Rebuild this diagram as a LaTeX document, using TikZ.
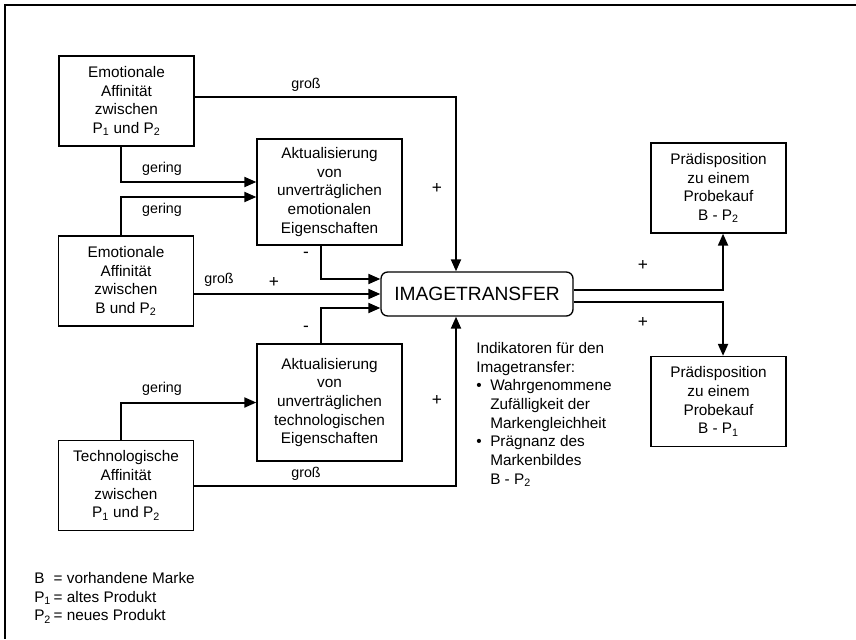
\documentclass[tikz,border=0pt]{standalone}
\usepackage{fontspec}
\setmainfont{Liberation Sans}
\usetikzlibrary{arrows.meta}

\begin{document}
\begin{tikzpicture}[x=0.75pt, y=-0.75pt,
	box/.style = {draw, line width=1pt, align=center, inner sep=0pt, font=\fontsize{11.5}{14}\selectfont},
	lbl/.style = {inner sep=0pt, font=\fontsize{10.7}{13}\selectfont},
	sgn/.style = {inner sep=0pt, font=\fontsize{13}{13}\selectfont},
	conn/.style = {line width=1.5pt, -{Triangle[length=9pt, width=7.5pt]}}]
	\useasboundingbox (0,0) rectangle (856,639);
	\draw[line width=1pt] (856,5) -- (5,5) -- (5,639);
	% Affinitaeten
	\node[box, minimum width=101.25pt, minimum height=67.5pt] (emoP) at (126.5,101) {Emotionale\\Affinität\\zwischen\\P\textsubscript{1} und P\textsubscript{2}};
	\node[box, minimum width=101.25pt, minimum height=67.5pt] (emoB) at (126,281) {Emotionale\\Affinität\\zwischen\\B und P\textsubscript{2}};
	\node[box, minimum width=101.25pt, minimum height=67.5pt] (tech) at (126,485.5) {Technologische\\Affinität\\zwischen\\P\textsubscript{1} und P\textsubscript{2}};
	% Aktualisierung
	\node[box, minimum width=108.75pt, minimum height=79.5pt] (akE) at (329.5,192) {Aktualisierung\\von\\unverträglichen\\emotionalen\\Eigenschaften};
	\node[box, minimum width=108.75pt, minimum height=87.75pt] (akT) at (329.5,402.5) {Aktualisierung\\von\\unverträglichen\\technologischen\\Eigenschaften};
	\node[draw, line width=1pt, rounded corners=5pt, minimum width=144pt, minimum height=33pt, font=\fontsize{14.4}{16}\selectfont] (img) at (477,294) {IMAGETRANSFER};
	% Praedisposition
	\node[box, minimum width=101.25pt, minimum height=67.5pt] (pr2) at (718.5,188) {Prädisposition\\zu einem\\Probekauf\\B - P\textsubscript{2}};
	\node[box, minimum width=101.25pt, minimum height=67.5pt] (pr1) at (718.5,401.5) {Prädisposition\\zu einem\\Probekauf\\B - P\textsubscript{1}};
	% Verbindungen
	\draw[conn] ([yshift=3pt]emoP.east) -| ([xshift=-15.75pt]img.north);
	\draw[conn] ([xshift=-4pt]emoP.south) |- ([yshift=7.5pt]akE.west);
	\draw[conn] ([xshift=-4pt]emoB.north) |- ([yshift=-3.75pt]akE.west);
	\draw[conn] ([xshift=-6.4pt]akE.south) |- ([yshift=11.25pt]img.west);
	\draw[conn] (emoB.east |- img.west) -- (img.west);
	\draw[conn] ([xshift=-6.4pt]akT.north) |- ([yshift=-10.5pt]img.west);
	\draw[conn] ([xshift=-4pt]tech.north) |- (akT.west);
	\draw[conn] (tech.east) -| ([xshift=-15.75pt]img.south);
	\draw[conn] ([yshift=3pt]img.east) -| ([xshift=3.4pt]pr2.south);
	\draw[conn] ([yshift=-6pt]img.east) -| ([xshift=3.4pt]pr1.north);
	% Beschriftungen
	\node[lbl] (g1) at (306,85) {groß};
	\node[sgn] (p1) at (437,188) {+};
	\node[lbl] (r1) at (162,169) {gering};
	\node[lbl] (r2) at (162,210) {gering};
	\node[sgn] (m1) at (306,255) {-};
	\node[lbl] (g2) at (219,280) {groß};
	\node[sgn] (p2) at (274,282) {+};
	\node[sgn] (m2) at (306,329) {-};
	\node[lbl] (r3) at (162,389) {gering};
	\node[sgn] (p3) at (437,400) {+};
	\node[lbl] (g3) at (306,474) {groß};
	\node[sgn] (p4) at (643,265) {+};
	\node[sgn] (p5) at (643,322) {+};
	% Indikatoren
	\node[anchor=north west, inner sep=0pt, font=\fontsize{11.5}{14}\selectfont] (ind) at (476,340) {%
		\begin{tabular}{@{}l@{}l@{}}
		\multicolumn{2}{@{}l@{}}{Indikatoren für den}\\
		\multicolumn{2}{@{}l@{}}{Imagetransfer:}\\
		\makebox[10.5pt][l]{\textbullet} & Wahrgenommene\\
		& Zufälligkeit der\\
		& Markengleichheit\\
		\textbullet & Prägnanz des\\
		& Markenbildes\\
		& B - P\textsubscript{2}
		\end{tabular}};
	% Legende
	\node[anchor=north west, inner sep=0pt, font=\fontsize{11.5}{14}\selectfont] (leg) at (34,570) {%
		\begin{tabular}{@{}l@{\,}l@{}}
		B & = vorhandene Marke\\
		P\textsubscript{1} & = altes Produkt\\
		P\textsubscript{2} & = neues Produkt
		\end{tabular}};
\end{tikzpicture}
\end{document}
